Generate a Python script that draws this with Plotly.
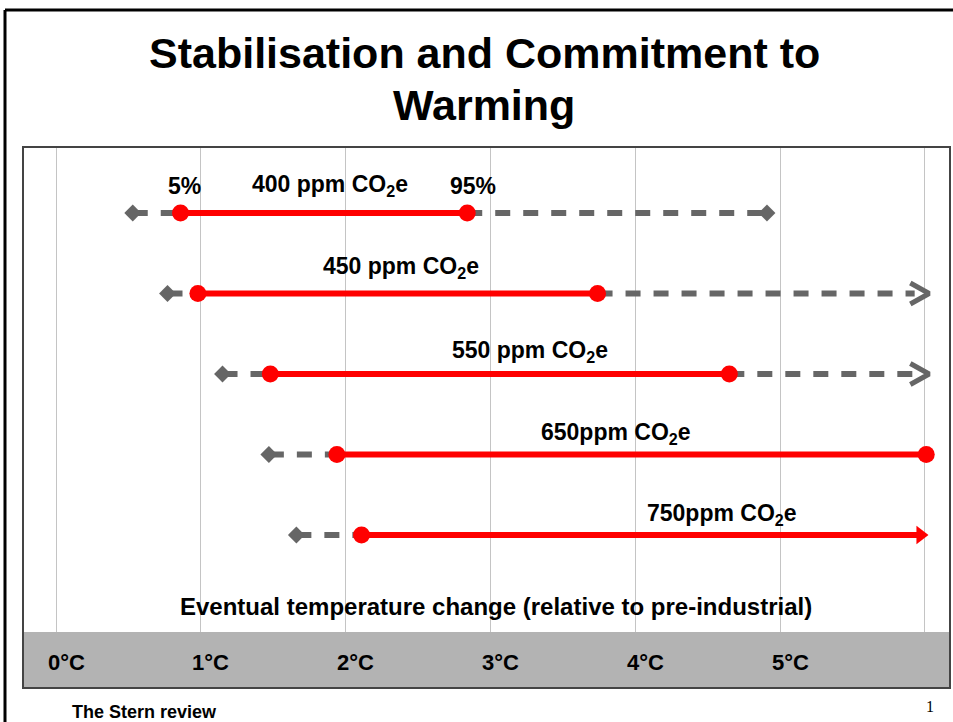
import plotly.graph_objects as go

W, H = 953, 722

# Stabilisation levels and eventual warming ranges (°C)
levels = ["400 ppm CO<sub>2</sub>e", "450 ppm CO<sub>2</sub>e", "550 ppm CO<sub>2</sub>e",
          "650ppm CO<sub>2</sub>e", "750ppm CO<sub>2</sub>e"]
rows = [1, 2, 3, 4, 5]
low_tail = [0.53, 0.77, 1.15, 1.47, 1.66]      # lower extreme (diamond)
p5 = [0.86, 0.98, 1.48, 1.94, 2.11]            # 5% bound
p95 = [2.84, 3.74, 4.65, 6.01, 6.03]           # 95% bound
p95_open = [False, False, False, False, True]  # 95% bound runs off the scale
high_tail = [4.91, 6.03, 6.03, None, None]     # upper extreme
high_open = [False, True, True, False, False]  # upper extreme runs off the scale
label_x = [1.89, 2.38, 3.27, 3.87, 4.60]
label_shift = [27, 26, 23, 21, 21]
ticks = [0, 1, 2, 3, 4, 5]
tick_text = ["0°C", "1°C", "2°C", "3°C", "4°C", "5°C"]

RED = "#ff0000"
GREY = "#666666"
FONT = "Liberation Sans, Arial, sans-serif"


def px(x):
    return x / W


def py(y):
    return 1 - y / H


def bold(s):
    return "<b>" + s + "</b>"


fig = go.Figure()

for i, r in enumerate(rows):
    # dashed tails
    fig.add_trace(go.Scatter(x=[low_tail[i], p5[i]], y=[r, r], mode="lines",
                             line=dict(color=GREY, width=6, dash="15px,13px"),
                             hoverinfo="skip"))
    if high_tail[i] is not None:
        fig.add_trace(go.Scatter(x=[p95[i], high_tail[i] - (0.1 if high_open[i] else 0)],
                                 y=[r, r], mode="lines",
                                 line=dict(color=GREY, width=6, dash="15px,13px"),
                                 hoverinfo="skip"))
        if high_open[i]:
            e = high_tail[i]
            fig.add_trace(go.Scatter(x=[e - 0.13, e, e - 0.13], y=[r - 0.13, r, r + 0.13],
                                     mode="lines", line=dict(color=GREY, width=5),
                                     hoverinfo="skip"))
        else:
            fig.add_trace(go.Scatter(x=[high_tail[i]], y=[r], mode="markers",
                                     marker=dict(symbol="diamond", size=13, color=GREY),
                                     hoverinfo="skip"))
    fig.add_trace(go.Scatter(x=[low_tail[i]], y=[r], mode="markers",
                             marker=dict(symbol="diamond", size=13, color=GREY),
                             hoverinfo="skip"))
    # 5%-95% range
    end = p95[i] - (0.08 if p95_open[i] else 0)
    fig.add_trace(go.Scatter(x=[p5[i], end], y=[r, r], mode="lines",
                             line=dict(color=RED, width=6), hoverinfo="skip"))
    if p95_open[i]:
        fig.add_trace(go.Scatter(x=[p5[i]], y=[r], mode="markers",
                                 marker=dict(symbol="circle", size=17, color=RED),
                                 hoverinfo="skip"))
        fig.add_trace(go.Scatter(x=[p95[i] - 0.06], y=[r], mode="markers",
                                 marker=dict(symbol="triangle-right", size=16, color=RED),
                                 hoverinfo="skip"))
    else:
        fig.add_trace(go.Scatter(x=[p5[i], p95[i]], y=[r, r], mode="markers",
                                 marker=dict(symbol="circle", size=17, color=RED),
                                 hoverinfo="skip"))
    fig.add_annotation(x=label_x[i], y=r, yshift=label_shift[i], text=bold(levels[i]),
                       showarrow=False, yanchor="middle",
                       font=dict(family=FONT, size=23, color="black"))

# percentile markers on the first row
fig.add_annotation(x=p5[0], y=1, yshift=27, xshift=4, text=bold("5%"), showarrow=False,
                   yanchor="middle", font=dict(family=FONT, size=23, color="black"))
fig.add_annotation(x=p95[0], y=1, yshift=27, xshift=6, text=bold("95%"), showarrow=False,
                   yanchor="middle", font=dict(family=FONT, size=23, color="black"))

# temperature scale band
fig.add_shape(type="rect", xref="paper", yref="paper", x0=px(23), x1=px(950),
              y0=py(688), y1=py(632), fillcolor="#b3b3b3", line=dict(width=0), layer="below")
for t, s in zip(ticks, tick_text):
    fig.add_annotation(x=t, xref="x", y=py(662), yref="paper", xshift=10, text=bold(s),
                       showarrow=False, yanchor="middle",
                       font=dict(family=FONT, size=22, color="black"))

# panel frame
fig.add_shape(type="rect", xref="paper", yref="paper", x0=px(23), x1=px(950),
              y0=py(688), y1=py(147), line=dict(color="#444444", width=2))
# slide frame
fig.add_shape(type="line", xref="paper", yref="paper", x0=px(5), x1=1, y0=py(10), y1=py(10),
              line=dict(color="black", width=3))
fig.add_shape(type="line", xref="paper", yref="paper", x0=px(5), x1=px(5), y0=0, y1=py(10),
              line=dict(color="black", width=3))

# title, two lines
for text, yy in [("Stabilisation and Commitment to", 53), ("Warming", 105)]:
    fig.add_annotation(x=px(484), y=py(yy), xref="paper", yref="paper", yanchor="middle",
                       text=bold(text), showarrow=False,
                       font=dict(family=FONT, size=43, color="black"))
fig.add_annotation(x=px(496), y=py(606), xref="paper", yref="paper", yanchor="middle",
                   text=bold("Eventual temperature change (relative to pre-industrial)"),
                   showarrow=False, font=dict(family=FONT, size=24, color="black"))
fig.add_annotation(x=px(70), y=py(712), xref="paper", yref="paper", xanchor="left",
                   yanchor="middle", text=bold("The Stern review"), showarrow=False,
                   font=dict(family=FONT, size=18, color="black"))
fig.add_annotation(x=px(936), y=py(706), xref="paper", yref="paper", yanchor="middle",
                   text="1", showarrow=False,
                   font=dict(family="Liberation Serif, Times New Roman, serif", size=16,
                             color="black"))

x0 = (23 - 56) / 144.8
x1 = (950 - 56) / 144.8
fig.update_layout(
    width=W, height=H, margin=dict(l=0, r=0, t=0, b=0),
    paper_bgcolor="white", plot_bgcolor="white", showlegend=False,
    font=dict(family=FONT),
    xaxis=dict(domain=[px(23), px(950)], range=[x0, x1], tickvals=[0, 1, 2, 3, 4, 5, 6],
               showticklabels=False, showgrid=True, gridcolor="#c4c4c4", gridwidth=1,
               zeroline=False, showline=False, fixedrange=True),
    yaxis=dict(domain=[py(632), py(147)], range=[1 + (632 - 213) / 80.5, 1 - (213 - 147) / 80.5],
               showticklabels=False, showgrid=False, zeroline=False, showline=False,
               fixedrange=True),
)

fig.write_html("out.html")
